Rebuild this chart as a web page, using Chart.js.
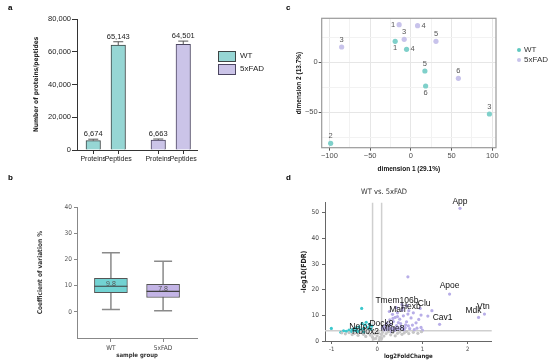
<!DOCTYPE html>
<html><head><meta charset="utf-8">
<script src="https://cdn.jsdelivr.net/npm/chart.js@4/dist/chart.umd.min.js"></script>
<style>
body{margin:0;background:#fff;width:550px;height:364px;position:relative;overflow:hidden;font-family:'Liberation Sans',Arial,sans-serif}
canvas{position:absolute}
.pl{position:absolute;font-weight:bold;font-size:8px;color:#000;line-height:10px}
.tx{position:absolute;font-size:8px;color:#222;line-height:10px;white-space:nowrap}
.box{position:absolute;box-sizing:border-box;border:1px solid #404848}
.dot{position:absolute;width:4px;height:4px;border-radius:50%}
</style></head><body>
<canvas id="ca" width="275" height="180" style="left:0;top:0"></canvas>
<canvas id="cb" width="275" height="184" style="left:0;top:180px"></canvas>
<canvas id="cc" width="275" height="180" style="left:275px;top:0"></canvas>
<canvas id="cd" width="275" height="184" style="left:275px;top:180px"></canvas>

<div class="pl" style="left:8px;top:3px">a</div>
<div class="pl" style="left:8px;top:173px">b</div>
<div class="pl" style="left:286px;top:3px">c</div>
<div class="pl" style="left:286px;top:173px">d</div>

<!-- legend a -->
<div class="box" style="left:218px;top:51px;width:18px;height:11px;background:#96d6d4;border-color:#3d4545"></div>
<div class="tx" style="left:240px;top:51px">WT</div>
<div class="box" style="left:218px;top:64px;width:18px;height:11px;background:#cbc4e8;border-color:#4b4560"></div>
<div class="tx" style="left:240px;top:64px">5xFAD</div>

<!-- legend c -->
<div class="dot" style="left:517px;top:48px;background:#5fc8c0"></div>
<div class="tx" style="left:524px;top:45px;color:#333">WT</div>
<div class="dot" style="left:517px;top:58px;background:#c8c3eb"></div>
<div class="tx" style="left:524px;top:55px;color:#333">5xFAD</div>

<!-- title d -->
<div class="tx" style="left:361px;top:187px;font-size:7.5px;color:#333;font-family:'Liberation Sans Narrow','DejaVu Sans Condensed','Liberation Sans',sans-serif">WT vs. 5xFAD</div>

<script>
// ---------------- DATA ----------------
// Panel a
const aCategories = ['Proteins', 'Peptides', 'Proteins', 'Peptides'];
const aGroups = ['WT', 'WT', '5xFAD', '5xFAD'];
const aValues = [5700, 64100, 6100, 64500];
const aErrTop = [6600, 66100, 6700, 66500];
const aLabels = ['6,674', '65,143', '6,663', '64,501'];
const aYTicks = [0, 20000, 40000, 60000, 80000];

// Panel b
const bGroups = ['WT', '5xFAD'];
const bMin = [0.9, 0.4];
const bQ1 = [7.3, 5.5];
const bMedian = [9.8, 7.8];
const bQ3 = [12.8, 10.5];
const bMax = [22.6, 19.4];
const bYTicks = [0, 10, 20, 30, 40];

// Panel c
const cWtIds = ['1', '2', '3', '4', '5', '6'];
const cWtDim1 = [-19.3, -98.5, 96.4, -5.3, 17.2, 18.1];
const cWtDim2 = [20.7, -81.3, -52, 12.7, -9, -24];
const cFadIds = ['1', '3', '3', '4', '5', '6'];
const cFadDim1 = [-14.4, -85, -8.2, 8.2, 30.8, 58.3];
const cFadDim2 = [37.3, 15, 22.7, 36.3, 20.7, -16.3];
const cXTicks = [-100, -75, -50, -25, 0, 25, 50, 75, 100];
const cYTicks = [-75, -50, -25, 0, 25];

// Panel d
const dUpFC = [0.68, 1.21, 1.12, 0.97, 0.97, 0.86, 0.92, 0.78, 0.75, 0.7, 0.65, 0.62, 0.58, 0.55, 0.52, 0.5, 0.48, 0.45, 0.43, 0.4, 0.38, 0.36, 0.34, 0.32, 0.3, 0.28, 0.26, 0.24, 0.22, 0.2, 0.18, 0.16, 0.14, 0.6, 0.72, 0.82, 0.88, 1.0, 0.55, 0.42, 0.66, 0.8, 0.35, 0.47, 0.27, 0.33, 0.41, 0.53, 0.57, 0.63, 0.38, 0.46, 0.29, 0.69];
const dUpFDR = [25, 11.8, 9.7, 10.1, 5.3, 7.1, 8.4, 6.2, 9.0, 11.8, 7.5, 5.2, 9.8, 12.0, 6.8, 8.5, 4.6, 11.0, 6.0, 9.2, 5.0, 7.6, 10.4, 4.5, 6.5, 8.2, 5.6, 4.2, 7.0, 5.0, 6.0, 4.3, 5.3, 4.3, 4.8, 4.4, 5.0, 4.2, 14.2, 13.0, 13.8, 11.0, 8.8, 7.2, 11.5, 4.9, 4.4, 5.6, 4.7, 6.3, 4.1, 5.1, 4.8, 5.9];
const dDownFC = [-1.01, -0.34, -0.8, -0.74, -0.68, -0.62, -0.58, -0.55, -0.5, -0.47, -0.43, -0.4, -0.37, -0.33, -0.3, -0.27, -0.24, -0.2, -0.17, -0.14, -0.12, -0.45, -0.3];
const dDownFDR = [4.9, 12.7, 3.4, 4.0, 3.8, 4.2, 3.6, 4.4, 4.0, 5.0, 3.7, 5.5, 4.3, 6.8, 4.8, 6.2, 7.3, 5.2, 6.5, 4.6, 5.8, 4.1, 3.5];
const dNsFC = [-0.78, -0.7, -0.62, -0.55, -0.5, -0.42, -0.36, -0.3, -0.25, -0.2, -0.15, -0.1, -0.06, -0.03, 0, 0.03, 0.06, 0.09, 0.12, 0.15, 0.2, 0.25, 0.3, 0.35, 0.4, 0.45, 0.5, 0.55, 0.6, 0.65, 0.7, 0.8, 0.9, 0.98, 0.05, -0.08, 0.1];
const dNsFDR = [3.2, 2.8, 3.3, 2.5, 3.0, 2.2, 3.5, 2.6, 1.8, 3.1, 2.3, 1.5, 2.8, 1.0, 2.0, 3.2, 1.4, 2.6, 3.4, 1.9, 2.9, 3.6, 2.4, 3.3, 2.0, 3.0, 3.5, 2.6, 3.2, 3.7, 2.9, 3.4, 3.0, 3.6, 0.5, 0.8, 1.0];
const geneNames = ['App', 'Apoe', 'Vtn', 'Mdk', 'Cav1', 'Clu', 'Hexb', 'Tmem106b', 'Man', 'Dock9', 'Nefo1', 'Rbfox2', 'Mfge8'];
const geneFC = [1.83, 1.6, 2.37, 2.24, 1.38, 0.95, 0.68, 0.57, 0.45, 0.12, -0.45, -0.3, 0.32];
const geneFDR = [51.7, 18.3, 10.5, 9.2, 6.5, 12.7, 10.5, 13, 9.5, 5, 4, 3, 3.5];
const fcCut = 0.1, fdrCut = 4;
const dXTicks = [-1, 0, 1, 2];
const dYTicks = [0, 10, 20, 30, 40, 50];

// ---------------- STYLE ----------------
const FN = "'Liberation Sans Narrow','DejaVu Sans Condensed','Liberation Sans',Arial,sans-serif";
const FS = "'Liberation Sans',Arial,sans-serif";
Chart.defaults.font.family = FS;
const groupOrder = ['WT', '5xFAD'];
const aFill = ['#96d6d4', '#cbc4e8'], aStroke = ['#3d4545', '#4b4560'];
const bFill = ['#72d2d2', '#c3b4e6'];
const cColor = ['#7fd0ca', '#c8c3eb'];
const cLabelPosWT = ['bottom', 'top', 'top', 'right', 'top', 'bottom'];
const cLabelPosFAD = ['left', 'top', 'top', 'right', 'top', 'top'];
const geneNudge = [[0,-7],[0,-8],[-1,-7],[-5,-7],[3,-7],[4,-5],[3,-7],[-6,-7],[0,-7],[-1,-5],[4,-4],[2,-2],[1,-3]];
const groupGap = 0.6;

function base(pad) {
  return { responsive: false, animation: false, devicePixelRatio: 1, layout: { padding: pad },
    plugins: { legend: { display: false }, tooltip: { enabled: false } } };
}
function setTicks(vals) { return s => { s.ticks = vals.map(v => ({ value: v })); }; }

// ---------------- PANEL A ----------------
const aX = aCategories.map((c, i) => 1 + i + groupOrder.indexOf(aGroups[i]) * groupGap);
const errPlugin = { id: 'err', afterDatasetsDraw(chart) {
  const ctx = chart.ctx, y = chart.scales.y;
  chart.data.datasets.forEach((ds, di) => {
    chart.getDatasetMeta(di).data.forEach((bar, i) => {
      const d = ds.data[i]; const yt = y.getPixelForValue(d.err);
      ctx.save(); ctx.strokeStyle = '#555'; ctx.lineWidth = 1;
      ctx.beginPath(); ctx.moveTo(bar.x, bar.y); ctx.lineTo(bar.x, yt);
      ctx.moveTo(bar.x - 5, yt); ctx.lineTo(bar.x + 5, yt); ctx.stroke();
      ctx.fillStyle = '#222'; ctx.font = '7.5px ' + FS; ctx.textAlign = 'center'; ctx.textBaseline = 'bottom';
      ctx.fillText(d.lab, bar.x, yt - 1.5); ctx.restore();
    });
  });
}};
new Chart(document.getElementById('ca'), {
  type: 'bar',
  data: { datasets: groupOrder.map((g, gi) => ({
    label: g,
    data: aValues.map((v, i) => ({ x: aX[i], y: v, err: aErrTop[i], lab: aLabels[i], g: aGroups[i] })).filter(d => d.g === g),
    backgroundColor: aFill[gi], borderColor: aStroke[gi], borderWidth: 1, borderSkipped: 'bottom',
    barThickness: 14.5, grouped: false
  })) },
  options: Object.assign(base({ left: 0, right: 78, top: 19, bottom: 0 }), {
    scales: {
      x: { type: 'linear', offset: false, min: 0.35, max: 5.15, afterBuildTicks: setTicks(aX),
        ticks: { callback: (v, i) => aCategories[i], autoSkip: false, maxRotation: 0, color: '#222', font: { size: 7 }, padding: 1 },
        grid: { display: true, offset: false, drawOnChartArea: false, tickLength: 4, color: '#333' },
        border: { color: '#333' }, afterFit: s => { s.height = 30; } },
      y: { min: 0, max: 80000, afterBuildTicks: setTicks(aYTicks),
        ticks: { callback: v => v.toLocaleString('en-US'), color: '#222', font: { size: 7.5 }, padding: 1 },
        grid: { display: true, drawOnChartArea: false, tickLength: 5, color: '#333' },
        border: { color: '#333' },
        title: { display: true, text: 'Number of proteins/peptides', color: '#222', font: { size: 6.5, weight: 'bold', family: FN }, padding: { top: 32, bottom: 0 } },
        afterFit: s => { s.width = 77; } }
    }
  }),
  plugins: [errPlugin]
});

// ---------------- PANEL B ----------------
const boxPlugin = { id: 'box',
  beforeDatasetsDraw(chart) {
    const ctx = chart.ctx, x = chart.scales.x, y = chart.scales.y;
    ctx.save(); ctx.strokeStyle = '#8a8a8a'; ctx.lineWidth = 1.5;
    bGroups.forEach((g, i) => {
      const px = x.getPixelForValue(i + 1), t = y.getPixelForValue(bMax[i]), b = y.getPixelForValue(bMin[i]);
      ctx.beginPath(); ctx.moveTo(px, t); ctx.lineTo(px, b);
      ctx.moveTo(px - 9, t); ctx.lineTo(px + 9, t); ctx.moveTo(px - 9, b); ctx.lineTo(px + 9, b); ctx.stroke();
    });
    ctx.restore();
  },
  afterDatasetsDraw(chart) {
    const ctx = chart.ctx, x = chart.scales.x, y = chart.scales.y;
    ctx.save();
    bGroups.forEach((g, i) => {
      const px = x.getPixelForValue(i + 1), m = y.getPixelForValue(bMedian[i]);
      ctx.strokeStyle = '#3f3f3f'; ctx.lineWidth = 1.2;
      ctx.beginPath(); ctx.moveTo(px - 16.5, m); ctx.lineTo(px + 16.5, m); ctx.stroke();
      ctx.fillStyle = '#555'; ctx.font = '7px ' + FS; ctx.textAlign = 'center'; ctx.textBaseline = 'middle';
      ctx.fillText(bMedian[i].toFixed(1), px, m - 2.5);
    });
    ctx.restore();
  }
};
new Chart(document.getElementById('cb'), {
  type: 'bar',
  data: { datasets: [{ data: bGroups.map((g, i) => ({ x: i + 1, y: [bQ1[i], bQ3[i]] })),
    backgroundColor: bFill, borderColor: '#555', borderWidth: 1, borderSkipped: false, barThickness: 33, grouped: false }] },
  options: Object.assign(base({ left: 0, right: 78, top: 27.3, bottom: 0 }), {
    scales: {
      x: { type: 'linear', offset: false, min: 0.35, max: 2.65, afterBuildTicks: setTicks([1, 2]),
        ticks: { callback: (v, i) => bGroups[i], autoSkip: false, maxRotation: 0, color: '#444', font: { size: 6.5, family: FN }, padding: 2 },
        grid: { display: true, offset: false, drawOnChartArea: false, tickLength: 4, color: '#888' },
        border: { color: '#888' },
        title: { display: true, text: 'sample group', color: '#333', font: { size: 6, weight: 'bold', family: FN }, padding: { top: 0, bottom: 5.4 } },
        afterFit: s => { s.height = 26; } },
      y: { min: -10, max: 40, afterBuildTicks: setTicks(bYTicks),
        ticks: { color: '#555', font: { size: 6.5, family: FN }, padding: 2 },
        grid: { display: true, drawOnChartArea: false, tickLength: 3, color: '#888' },
        border: { color: '#888' },
        title: { display: true, text: 'Coefficient of variation %', color: '#333', font: { size: 6.5, weight: 'bold', family: FN }, padding: { top: 36, bottom: 0 } },
        afterFit: s => { s.width = 77; } }
    }
  }),
  plugins: [boxPlugin]
});

// ---------------- PANEL C ----------------
const fmtMinus = v => (v < 0 ? '\u2212' + Math.abs(v) : String(v));
const frame = { id: 'frame', beforeDatasetsDraw(chart) {
  const { ctx, chartArea: a } = chart;
  ctx.save(); ctx.strokeStyle = '#9a9a9a'; ctx.lineWidth = 1.2;
  ctx.strokeRect(a.left, a.top, a.right - a.left, a.bottom - a.top); ctx.restore();
}};
const cLabels = { id: 'clab', afterDatasetsDraw(chart) {
  const ctx = chart.ctx;
  const sets = [[cWtIds, cLabelPosWT], [cFadIds, cLabelPosFAD]];
  ctx.save(); ctx.fillStyle = '#555'; ctx.font = '7.5px ' + FS; ctx.textBaseline = 'middle';
  sets.forEach(([ids, pos], di) => {
    chart.getDatasetMeta(di).data.forEach((pt, i) => {
      let dx = 0, dy = 0, al = 'center';
      if (pos[i] === 'top') dy = -7.5; else if (pos[i] === 'bottom') dy = 7; else if (pos[i] === 'left') { dx = -4; al = 'right'; } else { dx = 4; al = 'left'; }
      ctx.textAlign = al; ctx.fillText(ids[i], pt.x + dx, pt.y + dy);
    });
  });
  ctx.restore();
}};
const gridCol = c => (c.tick && c.tick.value % 50 === 0 ? '#e6e6e6' : '#f2f2f2');
const tickCol = c => (c.tick && c.tick.value % 50 === 0 ? '#555' : 'rgba(0,0,0,0)');
new Chart(document.getElementById('cc'), {
  type: 'scatter',
  data: { datasets: [
    { label: 'WT', data: cWtDim1.map((x, i) => ({ x, y: cWtDim2[i] })), backgroundColor: cColor[0], pointRadius: 2.6, borderWidth: 0 },
    { label: '5xFAD', data: cFadDim1.map((x, i) => ({ x, y: cFadDim2[i] })), backgroundColor: cColor[1], pointRadius: 2.6, borderWidth: 0 }
  ] },
  options: Object.assign(base({ left: 0, right: 54, top: 18.3, bottom: 0 }), {
    scales: {
      x: { type: 'linear', min: -109.5, max: 104.5, afterBuildTicks: setTicks(cXTicks),
        ticks: { callback: v => (v % 50 === 0 ? fmtMinus(v) : ''), autoSkip: false, maxRotation: 0, color: '#4d4d4d', font: { size: 7.5 }, padding: 1 },
        grid: { color: gridCol, tickColor: tickCol, tickLength: 3 },
        border: { display: false },
        title: { display: true, text: 'dimension 1 (29.1%)', color: '#111', font: { size: 6.5, weight: 'bold' }, padding: { top: 0, bottom: 7 } },
        afterFit: s => { s.height = 32.3; } },
      y: { min: -85.7, max: 43.7, afterBuildTicks: setTicks(cYTicks),
        ticks: { callback: v => (v % 50 === 0 ? fmtMinus(v) : ''), color: '#4d4d4d', font: { size: 7.5 }, padding: 1 },
        grid: { color: gridCol, tickColor: tickCol, tickLength: 3 },
        border: { display: false },
        title: { display: true, text: 'dimension 2 (13.7%)', color: '#111', font: { size: 6.5, weight: 'bold' }, padding: { top: 20.5, bottom: 0 } },
        afterFit: s => { s.width = 46.7; } }
    }
  }),
  plugins: [frame, cLabels]
});

// ---------------- PANEL D ----------------
const geneIdx = geneNames.map((n, i) => i);
const upPts = dUpFC.map((x, i) => ({ x, y: dUpFDR[i] })).concat(geneIdx.filter(i => geneFC[i] > 0).map(i => ({ x: geneFC[i], y: geneFDR[i] })));
const downPts = dDownFC.map((x, i) => ({ x, y: dDownFDR[i] })).concat(geneIdx.filter(i => geneFC[i] < 0).map(i => ({ x: geneFC[i], y: geneFDR[i] })));
const nsPts = dNsFC.map((x, i) => ({ x, y: dNsFDR[i] }));
const cutLines = { id: 'cut', beforeDatasetsDraw(chart) {
  const { ctx, chartArea: a, scales: { x, y } } = chart;
  ctx.save(); ctx.strokeStyle = '#cfcfcf'; ctx.lineWidth = 1.5; ctx.beginPath();
  [-fcCut, fcCut].forEach(v => { const px = x.getPixelForValue(v); ctx.moveTo(px, a.top); ctx.lineTo(px, a.bottom); });
  const py = y.getPixelForValue(fdrCut); ctx.moveTo(a.left, py); ctx.lineTo(a.right, py);
  ctx.stroke(); ctx.restore();
}};
const geneLabels = { id: 'glab', afterDatasetsDraw(chart) {
  const { ctx, scales: { x, y } } = chart;
  ctx.save(); ctx.fillStyle = '#111'; ctx.font = '8.5px ' + FS; ctx.textAlign = 'center'; ctx.textBaseline = 'middle';
  geneNames.forEach((n, i) => {
    ctx.fillText(n, x.getPixelForValue(geneFC[i]) + geneNudge[i][0], y.getPixelForValue(geneFDR[i]) + geneNudge[i][1]);
  });
  ctx.restore();
}};
new Chart(document.getElementById('cd'), {
  type: 'scatter',
  data: { datasets: [
    { data: nsPts, backgroundColor: '#c6c6c6', pointRadius: 1.6, borderWidth: 0 },
    { data: downPts, backgroundColor: '#3cc8cd', pointRadius: 1.6, borderWidth: 0 },
    { data: upPts, backgroundColor: '#b8aee8', pointRadius: 1.6, borderWidth: 0 }
  ] },
  options: Object.assign(base({ left: 0, right: 58.3, top: 22.7, bottom: 0 }), {
    scales: {
      x: { type: 'linear', min: -1.15, max: 2.53, afterBuildTicks: setTicks(dXTicks),
        ticks: { autoSkip: false, maxRotation: 0, color: '#444', font: { size: 6, family: FN }, padding: 2 },
        grid: { display: true, drawOnChartArea: false, tickLength: 3, color: '#666' },
        border: { color: '#666' },
        title: { display: true, text: 'log2FoldChange', color: '#222', font: { size: 6, weight: 'bold', family: FN }, padding: { top: 0, bottom: 4.4 } },
        afterFit: s => { s.height = 23; } },
      y: { min: 0, max: 53.9, afterBuildTicks: setTicks(dYTicks),
        ticks: { color: '#444', font: { size: 6.5, family: FN }, padding: 3 },
        grid: { display: true, drawOnChartArea: false, tickLength: 3, color: '#666' },
        border: { color: '#666' },
        title: { display: true, text: '-log10(FDR)', color: '#222', font: { size: 7, weight: 'bold', family: FN }, padding: { top: 25, bottom: 0 } },
        afterFit: s => { s.width = 50; } }
    }
  }),
  plugins: [cutLines, geneLabels]
});
</script>
</body></html>
